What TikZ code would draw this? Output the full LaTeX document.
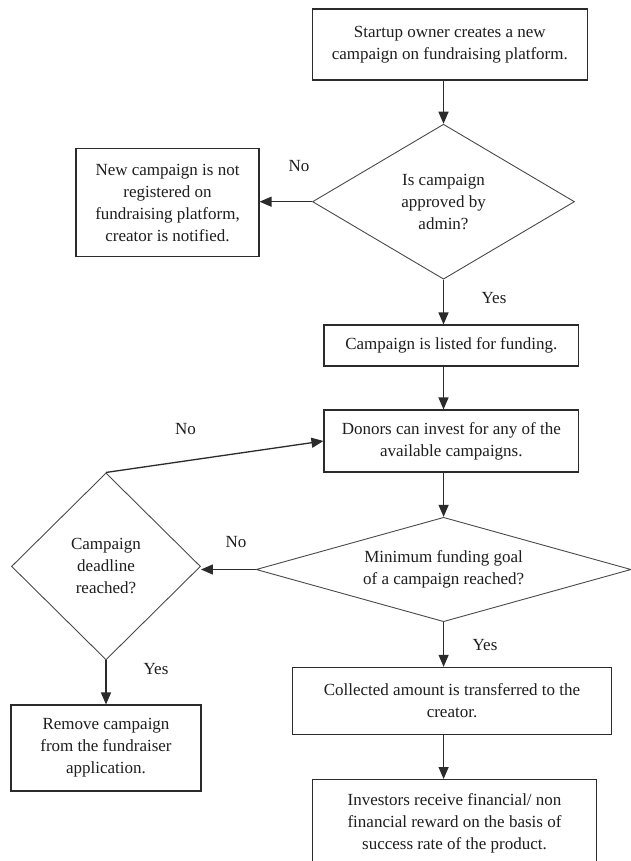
\documentclass[tikz,border=0pt]{standalone}
\usepackage{fontspec}
\setmainfont{Liberation Serif}
\usepackage{xcolor}
\usetikzlibrary{arrows.meta,positioning,calc,shapes.geometric}
\definecolor{ink}{HTML}{1E1E1E}
\definecolor{rule}{HTML}{2B2B2B}
\definecolor{thin}{HTML}{4A4A4A}
\newcommand{\flowfont}{\fontsize{17}{22}\selectfont\color{ink}}

\begin{document}
\begin{tikzpicture}[x=1pt, y=-1pt,
    box/.style={draw=rule, line width=1.1pt, fill=white, align=center,
                inner sep=0pt, font=\flowfont},
    choice/.style={diamond, draw=thin, line width=0.9pt, fill=white, align=center,
                   inner sep=0pt, font=\flowfont},
    arr/.style={draw=rule, line width=1.3pt, -{Triangle[width=10pt,length=12pt]}},
    lbl/.style={font=\flowfont, inner sep=0pt}]
  \useasboundingbox (0,0) rectangle (630,861);
  \fill[white] (0,0) rectangle (630,861);

  % main column
  \node[box, minimum width=275pt, minimum height=71pt] (start) at (449.8,44.5)
    {Startup owner creates a new\\campaign on fundraising platform.};
  \node[choice, shape aspect=1.7, minimum width=262pt, minimum height=155pt]
    (approve) at (443.5,201.7) {Is campaign\\approved by\\admin?};
  \node[box, minimum width=183pt, minimum height=108.5pt] (reject) at (167.5,202.5)
    {New campaign is not\\registered on\\fundraising platform,\\creator is notified.};
  \node[box, minimum width=254.6pt, minimum height=41pt] (listed) at (451.3,345.5)
    {Campaign is listed for funding.};
  \node[box, minimum width=254.6pt, minimum height=62pt] (donors) at (451.3,441)
    {Donors can invest for any of the\\available campaigns.};
  \node[choice, shape aspect=3.6, minimum width=375pt, minimum height=104.4pt]
    (goal) at (443.6,569.5) {Minimum funding goal\\of a campaign reached?};
  \node[box, minimum width=319.4pt, minimum height=66.7pt] (collect) at (452,700.7)
    {Collected amount is transferred to the\\creator.};
  \node[box, minimum width=284.4pt, minimum height=87.5pt] (reward) at (454.5,823.3)
    {Investors receive financial/ non\\financial reward on the basis of\\success rate of the product.};

  % left column
  \node[choice, shape aspect=1, minimum width=189pt, minimum height=187pt]
    (deadline) at (106,566.4) {Campaign\\deadline\\reached?};
  \node[box, minimum width=190pt, minimum height=86pt] (remove) at (106,748)
    {Remove campaign\\from the fundraiser\\application.};

  % connectors
  \draw[arr] (start.south -| approve.north) -- (approve.north);
  \draw[arr] (approve.west) -- (approve.west -| reject.east);
  \draw[arr] (approve.south) -- (approve.south |- listed.north);
  \draw[arr] (listed.south -| approve.south) -- (donors.north -| approve.south);
  \draw[arr] (donors.south -| goal.north) -- (goal.north);
  \draw[arr] (goal.west) -- (goal.west -| deadline.east);
  \draw[arr] (goal.south) -- (goal.south |- collect.north);
  \draw[arr] (collect.south -| goal.south) -- (reward.north -| goal.south);
  \draw[arr] (deadline.north) -- (donors.west);
  \draw[arr] (deadline.south) -- (remove.north);

  % branch labels
  \node[lbl] (noA) at (299,166) {No};
  \node[lbl] (yesA) at (494,298) {Yes};
  \node[lbl] (noB) at (185.6,429) {No};
  \node[lbl] (noC) at (236,541.7) {No};
  \node[lbl] (yesC) at (485,645) {Yes};
  \node[lbl] (yesB) at (156,669) {Yes};
\end{tikzpicture}
\end{document}
